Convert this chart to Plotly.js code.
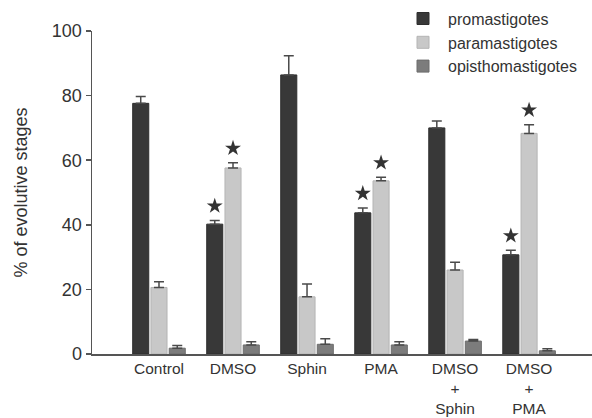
<!DOCTYPE html>
<html>
<head>
<meta charset="utf-8">
<script src="https://cdn.plot.ly/plotly-3.0.1.min.js"></script>
<style>html,body{margin:0;padding:0;background:#fff;}#chart{width:592px;height:418px;}</style>
</head>
<body>
<div id="chart"></div>
<script>
var categories = ["Control", "DMSO", "Sphin", "PMA", "DMSO<br>+<br>Sphin", "DMSO<br>+<br>PMA"];
var seriesNames = ["promastigotes", "paramastigotes", "opisthomastigotes"];
var promastigotes = [77.6, 40.2, 86.4, 43.7, 70.0, 30.7];
var promastigotesErr = [2.1, 1.1, 5.9, 1.5, 2.1, 1.4];
var paramastigotes = [20.6, 57.6, 17.7, 53.6, 26.0, 68.3];
var paramastigotesErr = [1.8, 1.6, 4.0, 1.1, 2.4, 2.7];
var opisthomastigotes = [1.8, 2.8, 3.0, 2.8, 4.0, 1.0];
var opisthomastigotesErr = [0.8, 1.0, 1.7, 1.0, 0.5, 0.6];
// significance stars (1 = marked)
var promastigotesSig = [0, 1, 0, 1, 0, 1];
var paramastigotesSig = [0, 1, 0, 1, 0, 1];

var values = [promastigotes, paramastigotes, opisthomastigotes];
var errs = [promastigotesErr, paramastigotesErr, opisthomastigotesErr];
var sigs = [promastigotesSig, paramastigotesSig, null];
var fills = ["#383838", "#c8c8c8", "#7c7c7c"];
var lines = ["#2e2e2e", "#b4b4b4", "#6c6c6c"];

var bargap = 0.26;
var xs = categories.map(function (c, i) { return i; });
var traces = [];
values.forEach(function (v, s) {
  traces.push({
    type: "bar",
    name: seriesNames[s],
    x: xs,
    y: v,
    marker: {color: fills[s], line: {color: lines[s], width: 1}},
    error_y: {type: "data", symmetric: false, array: errs[s], arrayminus: v.map(function(){return 0;}),
              color: "#4a4a4a", thickness: 1.5, width: 5},
    hoverinfo: "y"
  });
});
// stars
var slot = (1 - bargap) / 3;
var sx = [], sy = [];
sigs.forEach(function (sg, s) {
  if (!sg) return;
  sg.forEach(function (f, i) {
    if (f) {
      sx.push(i + (s - 1) * slot);
      sy.push(values[s][i] + errs[s][i] + 4.5);
    }
  });
});
traces.push({
  type: "scatter", mode: "markers", x: sx, y: sy, showlegend: false,
  marker: {symbol: "star", size: 12, color: "#333", line: {width: 0}},
  hoverinfo: "skip"
});

var layout = {
  width: 592, height: 418,
  margin: {l: 92, r: 0, t: 31, b: 64},
  paper_bgcolor: "#fff", plot_bgcolor: "#fff",
  font: {family: "Liberation Sans, Arial, sans-serif", color: "#333", size: 17},
  barmode: "group", bargap: bargap, bargroupgap: 0.12,
  showlegend: true,
  legend: {x: 0.612, xanchor: "left", y: 1.091, yanchor: "top", bgcolor: "rgba(0,0,0,0)",
           font: {size: 16, color: "#333"}, tracegroupgap: 0, itemwidth: 40},
  xaxis: {
    type: "linear", range: [-0.905, 5.85],
    tickmode: "array", tickvals: xs, ticktext: categories,
    showline: true, linecolor: "#555", linewidth: 1.5,
    ticks: "", showgrid: false, zeroline: false,
    tickfont: {size: 15.5, color: "#333"}
  },
  yaxis: {
    range: [0, 100], tickvals: [0, 20, 40, 60, 80, 100],
    showline: true, linecolor: "#555", linewidth: 1.5,
    ticks: "outside", ticklen: 5, tickcolor: "#555", tickwidth: 1.5,
    showgrid: false, zeroline: false,
    tickfont: {size: 18, color: "#333"},
    title: {text: "% of evolutive stages", font: {size: 18, color: "#333"}, standoff: 19}
  }
};
Plotly.newPlot("chart", traces, layout, {displayModeBar: false, staticPlot: true});
</script>
</body>
</html>
